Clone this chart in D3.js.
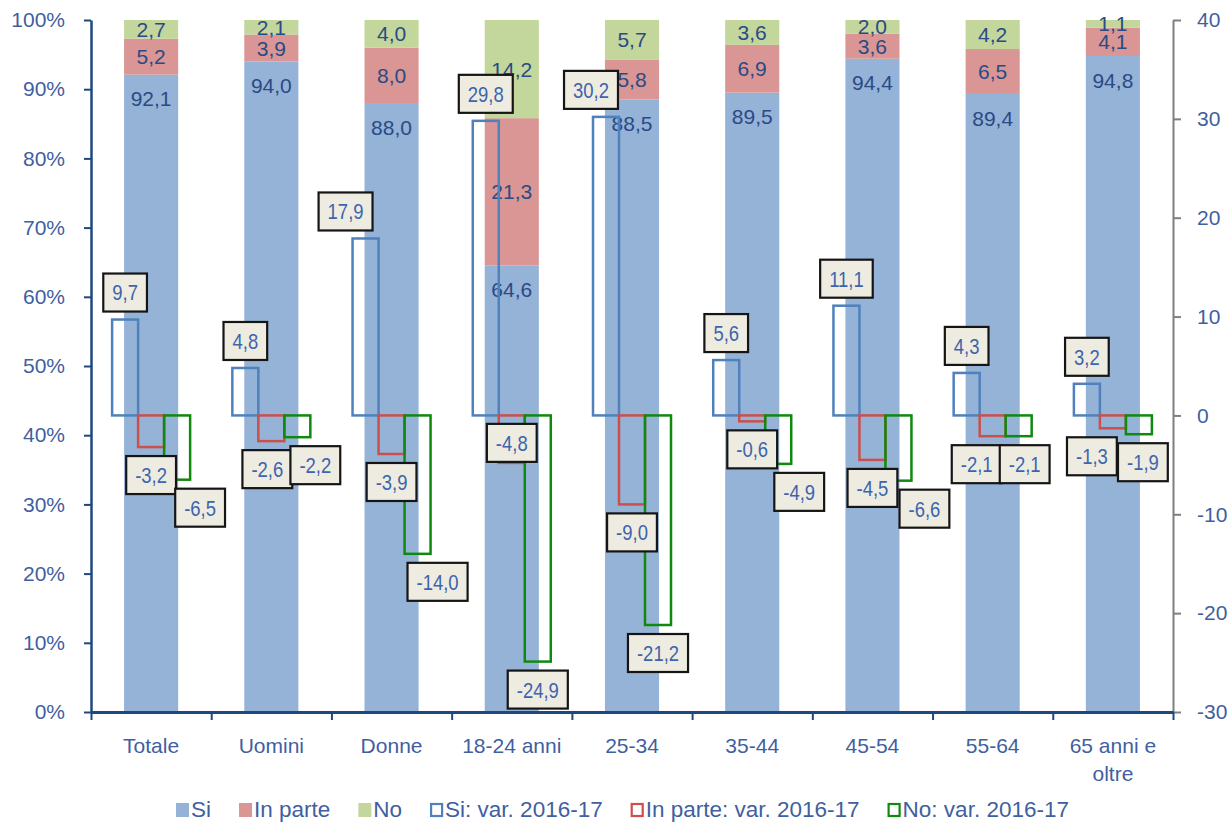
<!DOCTYPE html>
<html>
<head>
<meta charset="utf-8">
<script src="https://cdn.jsdelivr.net/npm/d3@7"></script>
<style>
  body { margin: 0; background: #fff; }
  text { font-family: "Liberation Sans", Arial, sans-serif; }
</style>
</head>
<body>
<div id="chart"></div>
<script>
// categories + values
const categories = ["Totale", "Uomini", "Donne", "18-24 anni", "25-34", "35-44", "45-54", "55-64", "65 anni e oltre"];
const si      = [92.1, 94.0, 88.0, 64.6, 88.5, 89.5, 94.4, 89.4, 94.8];
const inParte = [5.2, 3.9, 8.0, 21.3, 5.8, 6.9, 3.6, 6.5, 4.1];
const no      = [2.7, 2.1, 4.0, 14.2, 5.7, 3.6, 2.0, 4.2, 1.1];

const siVar      = [9.7, 4.8, 17.9, 29.8, 30.2, 5.6, 11.1, 4.3, 3.2];
const inParteVar = [-3.2, -2.6, -3.9, -4.8, -9.0, -0.6, -4.5, -2.1, -1.3];
const noVar      = [-6.5, -2.2, -14.0, -24.9, -21.2, -4.9, -6.6, -2.1, -1.9];

const leftTicks  = [0, 10, 20, 30, 40, 50, 60, 70, 80, 90, 100];
const rightTicks = [-30, -20, -10, 0, 10, 20, 30, 40];

const legendLabels = ["Si", "In parte", "No", "Si: var. 2016-17", "In parte: var. 2016-17", "No: var. 2016-17"];

// label nudges (px) so boxes sit where they were in the original
const nudgeSi      = [[0,0],[0,0],[-20,0],[0,0],[-15,0],[0,0],[0,0],[0,0],[0,0]];
const nudgeInParte = [[0,0],[-4,0],[0,0],[0,-48],[0,0],[0,0],[0,0],[-16,0],[-21,0]];
const nudgeNo      = [[23,0],[18,0],[20,0],[0,0],[0,0],[21,0],[26,0],[6,0],[4,0]];

// DIMENSIONS
let W = 1231, H = 822;
let x0 = 91, x1 = 1173, yTop = 20, yBot = 712;

let fillCol = ["#95b3d7", "#d99694", "#c3d69b"];
let lineCol = ["#4f81bd", "#cc4f4c", "#0f8a0f"];
let txtBlue = "#3f5f9f";

let it = d3.formatLocale({decimal: ",", thousands: ".", grouping: [3], currency: ["", "€"], minus: "-"});
let fmt = it.format(".1f");

let svg = d3.select("#chart").append("svg")
  .attr("width", W).attr("height", H);

let x = d3.scaleBand().domain(categories).range([x0, x1]);
let xEdge = d3.scaleLinear().domain([0, categories.length]).range([x0, x1]);
let yL = d3.scaleLinear().domain([0, 100]).range([yBot, yTop]);
let yR = d3.scaleLinear().domain([-30, 40]).range([yBot, yTop]);
let xVar = d3.scaleBand().domain(["si", "ip", "no"]).range([-39, 39]);

// stacked (100%) bars
let rows = categories.map((c, i) => {
  let tot = si[i] + inParte[i] + no[i];
  return {cat: c, si: si[i] / tot * 100, ip: inParte[i] / tot * 100, no: no[i] / tot * 100,
          lab: {si: si[i], ip: inParte[i], no: no[i]}};
});
let stacked = d3.stack().keys(["si", "ip", "no"])(rows);
let bw = x.bandwidth() * 0.45;

let gBars = svg.append("g");
stacked.forEach((s, k) => {
  gBars.selectAll(null).data(s).enter().append("rect")
    .attr("x", d => x(d.data.cat) + (x.bandwidth() - bw) / 2)
    .attr("width", bw)
    .attr("y", d => yL(d[1]))
    .attr("height", d => yL(d[0]) - yL(d[1]))
    .attr("fill", fillCol[k]);
});

// labels in the stacked bars
stacked.forEach((s, k) => {
  gBars.selectAll(null).data(s).enter().append("text")
    .attr("x", d => x(d.data.cat) + x.bandwidth() / 2)
    .attr("y", d => k == 0 ? yL(d[1]) + 24 : (yL(d[0]) + yL(d[1])) / 2)
    .attr("dy", "0.36em")
    .attr("text-anchor", "middle")
    .style("font-size", "21px")
    .style("fill", "#2a4a86")
    .text(d => fmt(d.data.lab[s.key]));
});

// variation bars (right axis), hollow
let varSeries = [
  {key: "si", vals: siVar, nudge: nudgeSi},
  {key: "ip", vals: inParteVar, nudge: nudgeInParte},
  {key: "no", vals: noVar, nudge: nudgeNo}
];
let gVar = svg.append("g");
varSeries.forEach((s, k) => {
  gVar.selectAll(null).data(s.vals).enter().append("rect")
    .attr("x", (d, i) => x(categories[i]) + x.bandwidth() / 2 + xVar(s.key))
    .attr("width", xVar.bandwidth())
    .attr("y", d => Math.min(yR(0), yR(d)))
    .attr("height", d => Math.abs(yR(d) - yR(0)))
    .attr("fill", "none")
    .attr("stroke", lineCol[k])
    .attr("stroke-width", 2.5);
});

// axes
let axL = svg.append("g").attr("transform", `translate(${x0},0)`)
  .call(d3.axisLeft(yL).tickValues(leftTicks).tickFormat(d => d + "%").tickSize(7).tickSizeOuter(0).tickPadding(19));
axL.select(".domain").attr("stroke", "#1f497d").attr("stroke-width", 2.5);
axL.selectAll(".tick line").attr("stroke", "#1f497d").attr("stroke-width", 2);

let axR = svg.append("g").attr("transform", `translate(${x1},0)`)
  .call(d3.axisRight(yR).tickValues(rightTicks).tickFormat(d => String(d)).tickSize(8).tickSizeOuter(0).tickPadding(16));
axR.select(".domain").attr("stroke", "#7f7f7f").attr("stroke-width", 2);
axR.selectAll(".tick line").attr("stroke", "#7f7f7f").attr("stroke-width", 2);

let axB = svg.append("g").attr("transform", `translate(0,${yBot})`)
  .call(d3.axisBottom(xEdge).tickValues(d3.range(0, categories.length + 1)).tickFormat("").tickSize(8).tickSizeOuter(0));
axB.select(".domain").attr("stroke", "#1f497d").attr("stroke-width", 3);
axB.selectAll(".tick line").attr("stroke", "#1f497d").attr("stroke-width", 2);

svg.selectAll(".tick text")
  .style("font-size", "21px")
  .style("font-family", "'Liberation Sans', Arial, sans-serif")
  .style("fill", txtBlue);

// category labels (wrap long ones)
let gCat = svg.append("g");
categories.forEach(c => {
  let t = gCat.append("text")
    .attr("x", x(c) + x.bandwidth() / 2)
    .attr("y", yBot + 41)
    .attr("text-anchor", "middle")
    .style("font-size", "21px")
    .style("fill", txtBlue);
  let words = c.split(" "), line = [];
  let ts = t.append("tspan").attr("x", x(c) + x.bandwidth() / 2);
  words.forEach(w => {
    line.push(w);
    ts.text(line.join(" "));
    if (ts.node().getComputedTextLength() > 110 && line.length > 1) {
      line.pop();
      ts.text(line.join(" "));
      line = [w];
      ts = t.append("tspan").attr("x", x(c) + x.bandwidth() / 2).attr("dy", 28).text(w);
    }
  });
});

// boxed labels for the variations
let gLab = svg.append("g");
varSeries.forEach(s => {
  s.vals.forEach((v, i) => {
    let cx = x(categories[i]) + x.bandwidth() / 2 + xVar(s.key) + xVar.bandwidth() / 2 + s.nudge[i][0];
    let cy = (v >= 0 ? yR(v) - 27 : yR(v) + 28) + s.nudge[i][1];
    let g = gLab.append("g");
    let box = g.append("rect");
    let t = g.append("text")
      .attr("transform", `translate(${cx},${cy}) scale(0.84,1)`)
      .attr("text-anchor", "middle")
      .attr("dy", "0.36em")
      .style("font-size", "22px")
      .style("fill", "#3d64ad")
      .text(fmt(v));
    let w = t.node().getComputedTextLength() * 0.84 + 18;
    box.attr("x", cx - w / 2).attr("y", cy - 19)
      .attr("width", w).attr("height", 38)
      .attr("fill", "#eeece1")
      .attr("stroke", "#151515")
      .attr("stroke-width", 2.2);
  });
});

// legend
let gLeg = svg.append("g");
let lx = 176, ly = 817;
legendLabels.forEach((l, i) => {
  let k = i % 3, hollow = i >= 3;
  gLeg.append("rect")
    .attr("x", lx + (hollow ? 1 : 0)).attr("y", ly - 14 + (hollow ? 1 : 0))
    .attr("width", hollow ? 11 : 13).attr("height", hollow ? 12 : 14)
    .attr("fill", hollow ? "#fff" : fillCol[k])
    .attr("stroke", hollow ? lineCol[k] : "none")
    .attr("stroke-width", 2.2);
  let t = gLeg.append("text")
    .attr("x", lx + 15).attr("y", ly)
    .style("font-size", "22.5px")
    .style("fill", txtBlue)
    .text(l);
  lx += 15 + t.node().getComputedTextLength() + 28;
});
</script>
</body>
</html>
